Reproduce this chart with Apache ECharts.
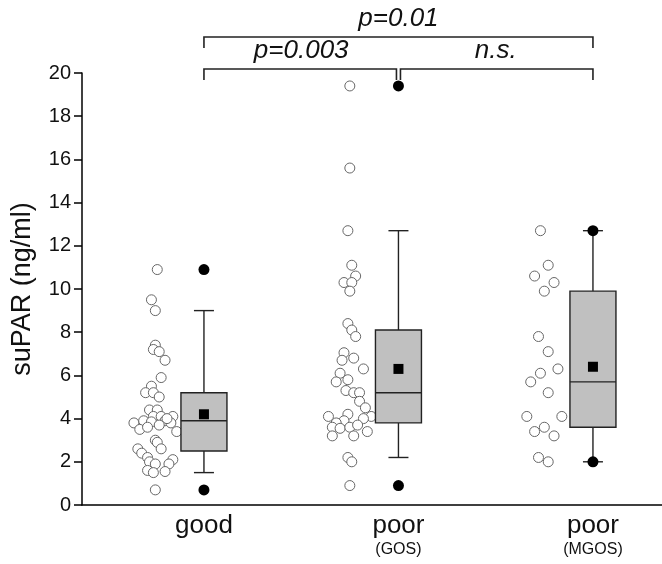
<!DOCTYPE html>
<html>
<head>
<meta charset="utf-8">
<title>suPAR by outcome</title>
<script src="https://cdn.jsdelivr.net/npm/echarts@6/dist/echarts.min.js"></script>
<style>
  html, body { margin: 0; padding: 0; background: #fff; }
  #main { width: 662px; height: 564px; }
</style>
</head>
<body>
<div id="main"></div>
<script>
// categories on the x axis (main label, sub label)
var categories = [['good', ''], ['poor', '(GOS)'], ['poor', '(MGOS)']];

// individual patients: [horizontal jitter (category units), suPAR]
var goodPoints = [
  [-0.24, 10.9], [-0.27, 9.5], [-0.25, 9.0], [-0.25, 7.4], [-0.26, 7.2], [-0.23, 7.1],
  [-0.20, 6.7], [-0.22, 5.9], [-0.27, 5.5], [-0.30, 5.2], [-0.26, 5.2], [-0.23, 5.0],
  [-0.28, 4.4], [-0.24, 4.4], [-0.26, 4.1], [-0.22, 4.1], [-0.16, 4.1], [-0.36, 3.8],
  [-0.31, 3.9], [-0.27, 3.85], [-0.20, 3.9], [-0.17, 3.8], [-0.33, 3.5], [-0.29, 3.6],
  [-0.14, 3.4], [-0.25, 3.0], [-0.24, 2.9], [-0.22, 2.6], [-0.34, 2.6], [-0.32, 2.4],
  [-0.29, 2.2], [-0.16, 2.1], [-0.18, 1.9], [-0.28, 2.0], [-0.25, 1.9], [-0.29, 1.6],
  [-0.26, 1.5], [-0.20, 1.55], [-0.25, 0.7], [-0.23, 3.7], [-0.19, 4.0]
];
var gosPoints = [
  [-0.25, 19.4], [-0.25, 15.6], [-0.26, 12.7], [-0.24, 11.1], [-0.22, 10.6], [-0.28, 10.3],
  [-0.24, 10.3], [-0.25, 9.9], [-0.26, 8.4], [-0.24, 8.1], [-0.22, 7.8], [-0.28, 7.05],
  [-0.29, 6.7], [-0.23, 6.8], [-0.18, 6.3], [-0.30, 6.1], [-0.32, 5.7], [-0.26, 5.8],
  [-0.27, 5.3], [-0.23, 5.2], [-0.20, 5.2], [-0.20, 4.8], [-0.17, 4.5], [-0.26, 4.2],
  [-0.36, 4.1], [-0.14, 4.1], [-0.28, 3.9], [-0.32, 3.8], [-0.18, 4.0], [-0.34, 3.6],
  [-0.30, 3.55], [-0.25, 3.6], [-0.21, 3.7], [-0.34, 3.2], [-0.23, 3.2], [-0.16, 3.4],
  [-0.26, 2.2], [-0.24, 2.0], [-0.25, 0.9]
];
var mgosPoints = [
  [-0.27, 12.7], [-0.23, 11.1], [-0.30, 10.6], [-0.20, 10.3], [-0.25, 9.9], [-0.28, 7.8],
  [-0.23, 7.1], [-0.18, 6.3], [-0.27, 6.1], [-0.32, 5.7], [-0.23, 5.2], [-0.34, 4.1],
  [-0.16, 4.1], [-0.25, 3.6], [-0.30, 3.4], [-0.20, 3.2], [-0.28, 2.2], [-0.23, 2.0]
];
var groupPoints = [goodPoints, gosPoints, mgosPoints];

// [lower whisker, Q1, median, Q3, upper whisker]
var boxStats = [
  [1.5, 2.5, 3.9, 5.2, 9.0],
  [2.2, 3.8, 5.2, 8.1, 12.7],
  [2.0, 3.6, 5.7, 9.9, 12.7]
];
var means = [4.2, 6.3, 6.4];
// [min, max] shown as filled dots
var extremes = [[0.7, 10.9], [0.9, 19.4], [2.0, 12.7]];

// significance brackets between categories (indexes)
var comparisons = [
  { from: 0, to: 1, level: 0, text: 'p=0.003' },
  { from: 1, to: 2, level: 0, text: 'n.s.' },
  { from: 0, to: 2, level: 1, text: 'p=0.01' }
];

var FONT = 'Liberation Sans, Arial, Helvetica, sans-serif';
var chart = echarts.init(document.getElementById('main'));

var scatterData = [];
groupPoints.forEach(function (pts, ci) {
  pts.forEach(function (p) { scatterData.push([ci + 1 + p[0], p[1]]); });
});

var extremeData = [];
extremes.forEach(function (e, ci) {
  extremeData.push([ci + 1, e[0]]);
  extremeData.push([ci + 1, e[1]]);
});

var option = {
  animation: false,
  grid: { left: 82, right: 0, top: 73, bottom: 59 },
  xAxis: {
    type: 'value',
    min: 0.373,
    max: 3.355,
    axisLine: { show: true, lineStyle: { color: '#000', width: 1.5 } },
    axisTick: { show: false },
    splitLine: { show: false },
    axisLabel: {
      customValues: [1, 2, 3],
      margin: 7,
      formatter: function (v) {
        var c = categories[Math.round(v) - 1];
        if (!c) return '';
        return c[1] ? '{a|' + c[0] + '}\n{b|' + c[1] + '}' : '{a|' + c[0] + '}';
      },
      rich: {
        a: { fontSize: 26, lineHeight: 28, color: '#111', fontFamily: FONT },
        b: { fontSize: 16, lineHeight: 20, color: '#111', fontFamily: FONT }
      }
    }
  },
  yAxis: {
    type: 'value',
    min: 0,
    max: 20,
    interval: 2,
    name: 'suPAR (ng/ml)',
    nameLocation: 'middle',
    nameGap: 46,
    nameTextStyle: { fontSize: 27, color: '#111', fontFamily: FONT },
    axisLine: { show: true, lineStyle: { color: '#000', width: 1.5 } },
    axisTick: { show: true, length: 8, lineStyle: { color: '#000', width: 1.5 } },
    axisLabel: { fontSize: 20, color: '#111', margin: 11, fontFamily: FONT },
    splitLine: { show: false }
  },
  series: [
    {
      name: 'patients',
      type: 'scatter',
      symbol: 'circle',
      symbolSize: 10,
      itemStyle: { color: '#fff', borderColor: '#666', borderWidth: 1, opacity: 1 },
      data: scatterData,
      z: 2
    },
    {
      name: 'box',
      type: 'custom',
      data: boxStats.map(function (s, i) { return [i + 1].concat(s); }),
      renderItem: function (params, api) {
        var x = api.value(0);
        var low = api.coord([x, api.value(1)]);
        var q1 = api.coord([x, api.value(2)]);
        var med = api.coord([x, api.value(3)]);
        var q3 = api.coord([x, api.value(4)]);
        var high = api.coord([x, api.value(5)]);
        var cx = low[0];
        var hw = 23, cap = 10;
        var ls = { stroke: '#222', lineWidth: 1.4 };
        return {
          type: 'group',
          children: [
            { type: 'line', shape: { x1: cx, y1: low[1], x2: cx, y2: q1[1] }, style: ls },
            { type: 'line', shape: { x1: cx, y1: q3[1], x2: cx, y2: high[1] }, style: ls },
            { type: 'line', shape: { x1: cx - cap, y1: low[1], x2: cx + cap, y2: low[1] }, style: ls },
            { type: 'line', shape: { x1: cx - cap, y1: high[1], x2: cx + cap, y2: high[1] }, style: ls },
            { type: 'rect', shape: { x: cx - hw, y: q3[1], width: hw * 2, height: q1[1] - q3[1] },
              style: { fill: '#c0c0c0', stroke: '#222', lineWidth: 1.4 } },
            { type: 'line', shape: { x1: cx - hw, y1: med[1], x2: cx + hw, y2: med[1] }, style: ls }
          ]
        };
      },
      z: 3
    },
    {
      name: 'extremes',
      type: 'scatter',
      symbol: 'circle',
      symbolSize: 11,
      itemStyle: { color: '#000', opacity: 1 },
      data: extremeData,
      clip: false,
      z: 4
    },
    {
      name: 'mean',
      type: 'scatter',
      symbol: 'rect',
      symbolSize: 10,
      itemStyle: { color: '#000', opacity: 1 },
      data: means.map(function (m, i) { return [i + 1, m]; }),
      z: 5
    },
    {
      name: 'significance',
      type: 'custom',
      clip: false,
      silent: true,
      data: comparisons.map(function (c) { return [c.from + 1, c.to + 1, c.level]; }),
      renderItem: function (params, api) {
        var c = comparisons[params.dataIndex];
        var left = api.coord([c.from + 1, 20]);
        var right = api.coord([c.to + 1, 20]);
        // endpoints shared with another bracket of the same level get a small gap
        var shared = function (idx) {
          return comparisons.some(function (o, j) {
            return j !== params.dataIndex && o.level === c.level && (o.from === idx || o.to === idx);
          });
        };
        var x1 = left[0] + (shared(c.from) ? 2 : 0);
        var x2 = right[0] - (shared(c.to) ? 2 : 0);
        var lineY = left[1] - 4 - c.level * 32;
        var legY = lineY + 11;
        return {
          type: 'group',
          children: [
            { type: 'polyline', shape: { points: [[x1, legY], [x1, lineY], [x2, lineY], [x2, legY]] },
              style: { stroke: '#222', lineWidth: 1.6, fill: null } },
            { type: 'text', x: (left[0] + right[0]) / 2, y: lineY - 18,
              style: { text: c.text, fontSize: 26, fontStyle: 'italic', fontFamily: FONT,
                       fill: '#111', align: 'center', verticalAlign: 'middle' } }
          ]
        };
      },
      z: 6
    }
  ]
};

chart.setOption(option);
</script>
</body>
</html>
